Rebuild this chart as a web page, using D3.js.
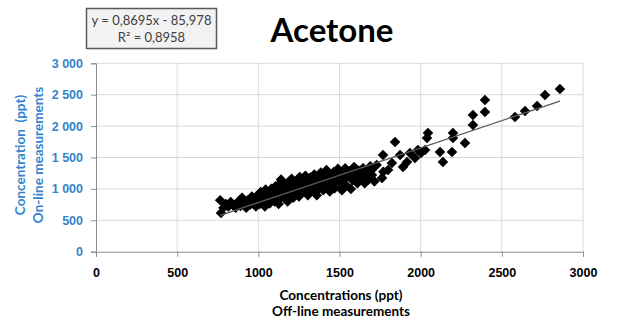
<!DOCTYPE html>
<html>
<head>
<meta charset="utf-8">
<script src="https://cdn.jsdelivr.net/npm/d3@7"></script>
<style>
  body { margin: 0; background: #fff; }
  svg { display: block; font-family: Lato, "Open Sans", sans-serif; }
</style>
</head>
<body>
<svg id="chart" width="619" height="320"></svg>
<script>
// tick values
var xTicks = [0, 500, 1000, 1500, 2000, 2500, 3000];
var yTicks = [0, 500, 1000, 1500, 2000, 2500, 3000];

// trend line (Excel linear fit shown in the box)
var fitSlope = 0.8695, fitIntercept = -85.978;
var fitLabel = ["y = 0,8695x - 85,978", "R\u00b2 = 0,8958"];

// [off-line, on-line] concentrations, ppt
var points = [
  [765,820],[770,615],[785,700],[800,760],[815,720],[830,790],[845,740],[860,700],[870,780],[885,820],[890,730],
  [900,860],[910,770],[925,700],[935,820],[950,750],[960,880],[975,800],[985,720],[995,900],[1005,840],[1008,760],
  [1015,950],[1020,800],[1030,870],[1040,720],[1045,990],[1055,830],[1060,910],[1070,770],[1080,1000],[1085,870],
  [1095,940],[1100,800],[1105,1040],[1115,900],[1120,960],[1125,760],[1130,1080],[1135,850],
  [1140,1150],[1145,950],[1150,1010],[1160,880],[1165,1060],[1175,980],[1180,800],[1185,1100],[1195,920],[1200,1040],
  [1205,1160],[1215,860],[1220,990],[1225,1080],[1235,940],[1240,1130],[1245,1020],[1250,880],[1255,1190],
  [1260,1060],[1270,960],[1275,1150],[1285,1000],[1290,1210],[1300,1090],[1305,900],[1315,1040],[1320,1180],
  [1330,980],[1340,1120],[1345,1230],[1355,1060],[1360,900],[1370,1150],[1375,1010],
  [1385,1260],[1390,1090],[1400,980],[1405,1180],[1415,1060],[1420,1300],[1430,1140],[1440,960],[1445,1220],
  [1455,1080],[1465,1270],[1470,1010],[1480,1160],[1490,1320],[1500,1100],
  [1510,1230],[1515,980],[1525,1150],[1535,1330],[1540,1060],[1550,1200],[1560,1280],[1570,1000],[1580,1140],
  [1590,1350],[1600,1220],[1610,1090],[1620,1290],
  [1635,1180],[1645,1330],[1655,1090],[1665,1250],[1680,1150],[1690,1360],[1700,1220],[1715,1120],
  [1698,1300],[1729,1380],[1762,1175],[1768,1540],[1770,1274],[1799,1300],[1823,1412],[1842,1747],[1873,1540],
  [1891,1349],[1916,1428],[1934,1571],[1965,1492],
  [1983,1619],[2002,1571],[2027,1619],[2039,1811],[2045,1890],[2119,1587],[2137,1428],[2193,1587],[2199,1890],
  [2199,1811],[2273,1730],[2322,2176],[2322,2017],[2396,2415],[2396,2224],[2581,2144],[2643,2240],[2717,2320],
  [2766,2495],[2858,2590]
];

var blue = "#3483cc";
var svg = d3.select("#chart");

var x = d3.scaleLinear().domain([0, 3000]).range([96, 583]);
var y = d3.scaleLinear().domain([0, 3000]).range([251.7, 63.3]);

// gridlines
svg.append("g").selectAll("line").data(xTicks.slice(1)).enter().append("line")
    .attr("x1", x).attr("x2", x).attr("y1", y(0)).attr("y2", y(3000))
    .attr("stroke", "#d9d9d9").attr("stroke-width", 1);
svg.append("g").selectAll("line").data(yTicks.slice(1)).enter().append("line")
    .attr("x1", x(0)).attr("x2", x(3000)).attr("y1", y).attr("y2", y)
    .attr("stroke", "#d9d9d9").attr("stroke-width", 1);

// axes
var fmt = d => d3.format(",")(d).replace(",", " ");
var gy = svg.append("g").attr("transform", "translate(" + x(0) + ",0)")
    .call(d3.axisLeft(y).tickValues(yTicks).tickSize(5).tickPadding(8).tickFormat(fmt));
gy.selectAll("text").attr("fill", blue).style("font-size", "12.5px").style("font-weight", "bold");

var gx = svg.append("g").attr("transform", "translate(0," + y(0) + ")")
    .call(d3.axisBottom(x).tickValues(xTicks).tickSize(5).tickPadding(11).tickFormat(d3.format("d")));
gx.selectAll("text").attr("fill", "#000").style("font-size", "12.5px").style("font-weight", "bold");

svg.selectAll(".domain, .tick line").attr("stroke", "#8c8c8c");

// markers
svg.append("g").selectAll("path").data(points).enter().append("path")
    .attr("d", d3.symbol(d3.symbolSquare, 56))
    .attr("transform", d => "translate(" + x(d[0]) + "," + y(d[1]) + ") rotate(45)")
    .attr("fill", "#000");

// trend line
var xr = d3.extent(points, d => d[0]);
svg.append("line")
    .attr("x1", x(xr[0])).attr("y1", y(fitSlope * xr[0] + fitIntercept))
    .attr("x2", x(xr[1])).attr("y2", y(fitSlope * xr[1] + fitIntercept))
    .attr("stroke", "#595959").attr("stroke-width", 1.3);

// title
svg.append("text").attr("x", 332).attr("y", 42).attr("text-anchor", "middle")
    .style("font-size", "33px").style("font-weight", "bold").text("Acetone");

// equation box
svg.append("rect").attr("x", 86.5).attr("y", 8.5).attr("width", 130).attr("height", 40)
    .attr("fill", "#f2f2f2").attr("stroke", "#595959").attr("stroke-width", 1.5);
svg.append("g").selectAll("text").data(fitLabel).enter().append("text")
    .attr("x", 151.5).attr("y", (d, i) => 25 + i * 17).attr("text-anchor", "middle")
    .attr("fill", "#404040").style("font-size", "13px").text(d => d);

// axis titles
svg.append("g").selectAll("text").data(["Concentrations (ppt)", "Off-line measurements"]).enter()
    .append("text").attr("x", 341).attr("y", (d, i) => 300 + i * 16).attr("text-anchor", "middle")
    .style("font-size", "13.5px").style("font-weight", "bold").text(d => d);

svg.append("g").selectAll("text").data(["Concentration  (ppt)", "On-line measurements"]).enter()
    .append("text").attr("transform", (d, i) => "translate(" + (25 + i * 18) + ",155) rotate(-90)")
    .attr("text-anchor", "middle").attr("fill", blue)
    .style("font-size", "13.5px").style("font-weight", "bold").style("white-space", "pre").text(d => d);
</script>
</body>
</html>
